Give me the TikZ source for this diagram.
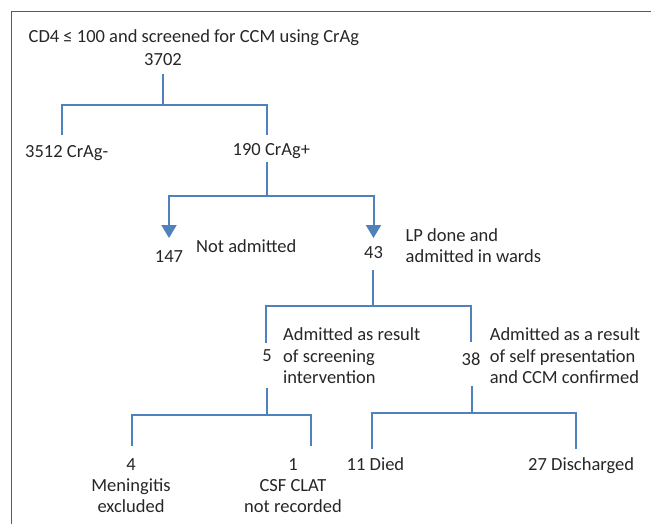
\documentclass[tikz,border=0pt]{standalone}
\usepackage{fontspec}
\setmainfont{Carlito}
\usetikzlibrary{arrows.meta}
\definecolor{flowblue}{RGB}{79,129,189}
\definecolor{framegray}{RGB}{90,90,90}

\begin{document}
\begin{tikzpicture}[x=1pt, y=-1pt,
        txt/.style={inner sep=0pt, font=\fontsize{18.5}{21.3}\selectfont, text=black!85},
        link/.style={flowblue, line width=2pt},
        arr/.style={link, -{Triangle[width=15pt,length=13pt]}}]
    \useasboundingbox (0,0) rectangle (651,524);
    \draw[framegray, line width=1.3pt] (651,11.7) -| (11.7,524);

    \node (cd4) [txt, anchor=base west] at (28.5,42.7) {CD4 ≤ 100 and screened for CCM using CrAg};
    \node (total) [txt, anchor=base] at (163,65.7) {3702};
    \node (neg) [txt, anchor=base west] at (25,158) {3512 CrAg-};
    \node (pos) [txt, anchor=base west] at (232.5,156) {190 CrAg+};
    \node (notadm) [txt, anchor=base] at (169,262.7) {147};
    \node (notadmtxt) [txt, anchor=base west] at (196,252.3) {Not admitted};
    \node (adm) [txt, anchor=base] at (373.5,258.3) {43};
    \node (admtxt) [txt, anchor=base west, align=left] at (405.5,262.6) {LP done and\\admitted in wards};
    \node (scr) [txt, anchor=base] at (267,361.7) {5};
    \node (scrtxt) [txt, anchor=base west, align=left] at (283,383.3) {Admitted as result\\of screening\\intervention};
    \node (self) [txt, anchor=base] at (471,365.7) {38};
    \node (selftxt) [txt, anchor=base west, align=left] at (489.6,383.3) {Admitted as a result\\of self presentation\\and CCM confirmed};
    \node (excl) [txt, anchor=base, align=center] at (131,512.6) {4\\Meningitis\\excluded};
    \node (clat) [txt, anchor=base, align=center] at (293,512.6) {1\\CSF CLAT\\not recorded};
    \node (died) [txt, anchor=base west] at (346.5,470) {11 Died};
    \node (disc) [txt, anchor=base west] at (528,470) {27 Discharged};

    % screening split
    \draw[link] (total.base) ++(0,8.3) -- ++(0,31) coordinate (fork1);
    \draw[link] (fork1) -| ([shift={(37,-23)}]neg.base west);
    \draw[link] (fork1) -| ([shift={(34.5,-21)}]pos.base west);
    % CrAg+ split
    \draw[link] ([shift={(34.5,6)}]pos.base west) -- ++(0,34) coordinate (fork2);
    \draw[arr] (fork2) -| ([shift={(0,-24.7)}]notadm.base);
    \draw[arr] (fork2) -| ([shift={(0,-20.3)}]adm.base);
    % admitted split
    \draw[link] ([shift={(-1,11.7)}]adm.base) -- ++(0,36) coordinate (fork3);
    \draw[link] (fork3) -| ([shift={(-1.4,-18.7)}]scr.base);
    \draw[link] (fork3) -| ([shift={(0,-24)}]self.base);
    % outcomes
    \draw[link] ([shift={(0,26.3)}]scr.base) -- ++(0,27) coordinate (fork4);
    \draw[link] (fork4) -| ([shift={(1,-66.6)}]excl.base);
    \draw[link] (fork4) -| ([shift={(18,-66.6)}]clat.base);
    \draw[link] ([shift={(0.5,20.3)}]self.base) -- ++(0,27) coordinate (fork5);
    \draw[link] (fork5) -| ([shift={(25.5,-21)}]died.base west);
    \draw[link] (fork5) -| ([shift={(47.5,-21)}]disc.base west);
\end{tikzpicture}
\end{document}
